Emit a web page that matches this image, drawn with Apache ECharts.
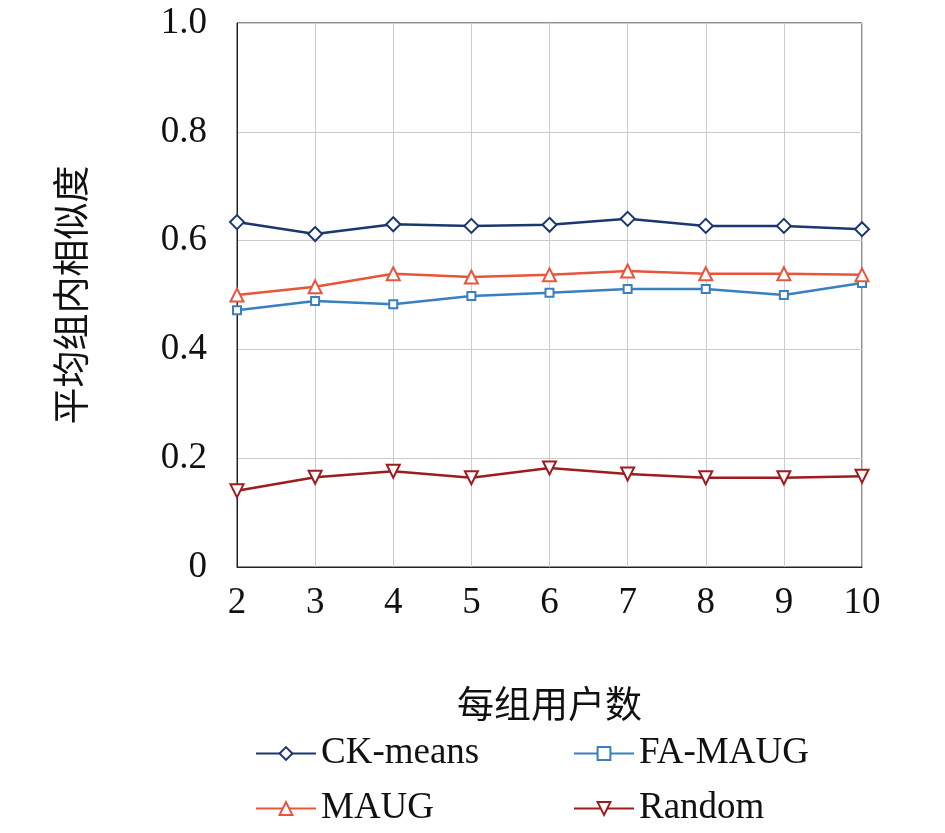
<!DOCTYPE html>
<html><head><meta charset="utf-8">
<script src="https://cdn.jsdelivr.net/npm/echarts@6/dist/echarts.min.js"></script>
<style>html,body{margin:0;background:#fff}#c{width:945px;height:833px}</style>
</head><body><div id="c"></div>
<script>
const categories = ['2', '3', '4', '5', '6', '7', '8', '9', '10'];
const ckMeans = [0.634, 0.612, 0.630, 0.627, 0.629, 0.640, 0.627, 0.627, 0.621];
const maug = [0.500, 0.515, 0.539, 0.533, 0.537, 0.544, 0.539, 0.539, 0.537];
const faMaug = [0.472, 0.489, 0.483, 0.498, 0.504, 0.511, 0.511, 0.500, 0.522];
const random = [0.140, 0.165, 0.176, 0.164, 0.182, 0.171, 0.164, 0.164, 0.167];

const serif = 'Liberation Serif';
const cjk = 'Noto Sans CJK SC';

function mk(name, data, color, symbol, size, rot) {
  return {
    name, type: 'line', data, symbol, symbolSize: size, symbolRotate: rot || 0,
    lineStyle: { color, width: 2.5 },
    itemStyle: { color: '#fff', borderColor: color, borderWidth: 2 },
    z: 3
  };
}

const legendText = { fontFamily: serif, fontSize: 37, color: '#111' };
const chart = echarts.init(document.getElementById('c'));
chart.setOption({
  animation: false,
  grid: { left: 237, right: 83, top: 23, bottom: 266, show: true, borderColor: '#222', borderWidth: 1 },
  xAxis: {
    type: 'category', data: categories, boundaryGap: false,
    name: '每组用户数', nameLocation: 'middle', nameGap: 118,
    nameTextStyle: { fontFamily: cjk, fontSize: 37, color: '#111' },
    axisLine: { lineStyle: { color: '#222' } },
    axisTick: { show: false },
    axisLabel: { fontFamily: serif, fontSize: 37, color: '#111', margin: 18 },
    splitLine: { show: true, lineStyle: { color: '#ccc' } }
  },
  yAxis: {
    type: 'value', min: 0, max: 1, interval: 0.2,
    name: '平均组内相似度', nameLocation: 'middle', nameGap: 148,
    nameTextStyle: { fontFamily: cjk, fontSize: 37, color: '#111' },
    axisLine: { show: true, lineStyle: { color: '#222' } },
    axisTick: { show: false },
    axisLabel: { fontFamily: serif, fontSize: 37, color: '#111', margin: 30,
      formatter: v => v === 0 ? '0' : v.toFixed(1) },
    splitLine: { lineStyle: { color: '#ccc' } }
  },
  legend: [
    { data: ['CK-means', 'MAUG'], orient: 'vertical', left: 250, top: 730, itemGap: 18, itemWidth: 60, itemHeight: 16,
      textStyle: legendText },
    { data: ['FA-MAUG', 'Random'], orient: 'vertical', left: 568, top: 730, itemGap: 18, itemWidth: 60, itemHeight: 16,
      textStyle: legendText }
  ],
  series: [
    mk('CK-means', ckMeans, '#1b3770', 'diamond', 14),
    mk('FA-MAUG', faMaug, '#3a7fbf', 'rect', 8),
    mk('MAUG', maug, '#e8553a', 'triangle', 13),
    mk('Random', random, '#9e1b1e', 'triangle', 13, 180)
  ]
});
</script></body></html>
